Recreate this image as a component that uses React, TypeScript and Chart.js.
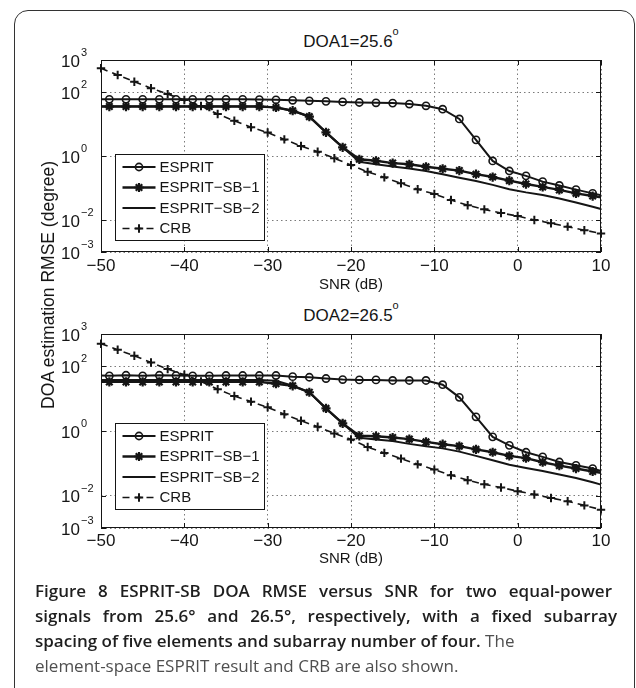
import React, { useEffect, useRef } from 'react';
import { Chart, registerables } from 'chart.js';

Chart.register(...registerables);

// ---------- data ----------
const SNR_ODD = [-50, -49, -47, -45, -43, -41, -39, -37, -35, -33, -31, -29, -27, -25, -23, -21, -19, -17, -15, -13, -11, -9, -7, -5, -3, -1, 1, 3, 5, 7, 9, 10];
const SNR_EVEN = [-50, -48, -46, -44, -42, -40, -38, -36, -34, -32, -30, -28, -26, -24, -22, -20, -18, -16, -14, -12, -10, -8, -6, -4, -2, 0, 2, 4, 6, 8, 10];
const X_TICKS = [-50, -40, -30, -20, -10, 0, 10];
const Y_TICKS = [1e-3, 1e-2, 1, 1e2, 1e3];
const Y_TICK_EXPONENTS = ['\u22123', '\u22122', '0', '2', '3'];
const SERIES_LABELS = ['ESPRIT', 'ESPRIT\u2212SB\u22121', 'ESPRIT\u2212SB\u22122', 'CRB'];
const PANEL_TITLES = ['DOA1=25.6', 'DOA2=26.5'];

// DOA1 = 25.6
const ESPRIT_1 = [59, 59, 59, 59, 59, 59, 59, 59, 59, 59, 58, 57, 55, 53, 51, 49, 47, 46, 45, 42, 37, 29, 14.4, 3.2, 0.7, 0.34, 0.24, 0.158, 0.12, 0.089, 0.068, 0.059];
const SB1_1 = [35, 35, 35, 35, 35, 35, 35, 35, 35, 35, 35, 33, 26, 17, 5.5, 1.87, 0.79, 0.71, 0.6, 0.55, 0.46, 0.4, 0.35, 0.27, 0.22, 0.17, 0.133, 0.108, 0.087, 0.068, 0.056, 0.051];
const SB2_1 = [36, 36, 36, 36, 36, 36, 36, 36, 36, 36, 36, 33, 26, 17, 5.5, 1.87, 0.66, 0.55, 0.47, 0.41, 0.34, 0.27, 0.21, 0.165, 0.125, 0.092, 0.073, 0.06, 0.047, 0.035, 0.026, 0.022];
const CRB_1 = [550, 340, 210, 131, 86, 56, 36.5, 20.5, 12.6, 7.9, 5.4, 3.3, 2.05, 1.36, 0.85, 0.52, 0.32, 0.215, 0.14, 0.091, 0.065, 0.042, 0.029, 0.0215, 0.0165, 0.0133, 0.01, 0.0079, 0.0062, 0.0048, 0.0038];

// DOA2 = 26.5
const ESPRIT_2 = [52, 51, 53, 51, 53, 52, 51, 51, 52, 52, 52, 52, 48, 46, 42, 39, 38, 38, 36.5, 36.5, 36.5, 27, 11, 2.75, 0.66, 0.36, 0.22, 0.158, 0.11, 0.087, 0.069, 0.058];
const SB1_2 = [33, 33, 33, 33, 33, 33, 33, 33, 33, 33, 33, 29, 25, 15.8, 5.0, 1.72, 0.71, 0.69, 0.63, 0.56, 0.46, 0.39, 0.34, 0.27, 0.22, 0.17, 0.145, 0.108, 0.085, 0.069, 0.056, 0.051];
const SB2_2 = [38, 38, 38, 38, 38, 38, 38, 38, 38, 38, 38, 36, 25, 15.8, 5.0, 1.72, 0.62, 0.55, 0.49, 0.4, 0.34, 0.29, 0.23, 0.17, 0.125, 0.09, 0.072, 0.058, 0.045, 0.035, 0.026, 0.022];
const CRB_2 = [500, 325, 213, 132, 82, 55, 34, 19.6, 12.1, 8.1, 5.4, 3.3, 2.08, 1.35, 0.84, 0.55, 0.32, 0.21, 0.14, 0.093, 0.064, 0.043, 0.03, 0.0225, 0.0178, 0.0138, 0.0109, 0.0085, 0.0067, 0.005, 0.0037];

// ---------- styles ----------
const INK = '#151515';
const FONT = "'Liberation Sans', Arial, Helvetica, sans-serif";
const CAPTION_FONT = "'Open Sans', 'Noto Sans', sans-serif";

const pairs = (xs: number[], ys: number[]) => xs.map((x, i) => ({ x, y: ys[i] }));
const fmtTick = (v: number) => (v < 0 ? '\u2212' + Math.abs(v) : String(v));
const isOdd = (ctx: any) => {
  const x = ctx.raw ? ctx.raw.x : 0;
  return Math.abs(x % 2) === 1;
};

function drawMarker(ctx: CanvasRenderingContext2D, style: string, x: number, y: number, r: number) {
  ctx.beginPath();
  if (style === 'circle') {
    ctx.arc(x, y, r, 0, Math.PI * 2);
  } else {
    ctx.moveTo(x - r, y);
    ctx.lineTo(x + r, y);
    ctx.moveTo(x, y - r);
    ctx.lineTo(x, y + r);
    if (style === 'star') {
      const d = r * Math.SQRT1_2;
      ctx.moveTo(x - d, y - d);
      ctx.lineTo(x + d, y + d);
      ctx.moveTo(x - d, y + d);
      ctx.lineTo(x + d, y - d);
    }
  }
  ctx.stroke();
}

type PanelCfg = {
  top: number;
  height: number;
  padTop: number;
  axisHeight: number;
  tickPad: number;
  titlePad: number;
  legendTop: number;
  esprit: number[];
  sb1: number[];
  sb2: number[];
  crb: number[];
};

const MARKER_R: Record<string, number> = { circle: 3.6, star: 4.6, cross: 4.2 };

function makeAxesPlugin(legendTop: number) {
  return {
    id: 'matlabAxes',
    afterDraw(chart: any) {
      const { ctx, chartArea: a, scales } = chart;
      const xs = scales.x;
      const ys = scales.y;
      ctx.save();
      ctx.setLineDash([]);
      ctx.strokeStyle = INK;
      ctx.lineWidth = 1;
      ctx.strokeRect(a.left + 0.5, a.top + 0.5, a.right - a.left - 1, a.bottom - a.top - 1);
      // inward tick marks on all four sides
      const tl = 5;
      ctx.beginPath();
      X_TICKS.forEach((v) => {
        const px = Math.round(xs.getPixelForValue(v)) + 0.5;
        ctx.moveTo(px, a.bottom);
        ctx.lineTo(px, a.bottom - tl);
        ctx.moveTo(px, a.top);
        ctx.lineTo(px, a.top + tl);
      });
      Y_TICKS.forEach((v) => {
        const py = Math.round(ys.getPixelForValue(v)) + 0.5;
        ctx.moveTo(a.left, py);
        ctx.lineTo(a.left + tl, py);
        ctx.moveTo(a.right, py);
        ctx.lineTo(a.right - tl, py);
      });
      ctx.stroke();

      // y tick labels: 10 with superscript exponent
      ctx.fillStyle = INK;
      Y_TICKS.forEach((v, i) => {
        const py = ys.getPixelForValue(v);
        ctx.font = `17px ${FONT}`;
        ctx.textAlign = 'right';
        ctx.textBaseline = 'alphabetic';
        ctx.fillText('10', a.left - 21, py + 6.5);
        ctx.font = `11px ${FONT}`;
        ctx.textAlign = 'left';
        ctx.fillText(Y_TICK_EXPONENTS[i], a.left - 20, py - 4);
      });

      // legend box
      const bx = Math.round(a.left + 14) + 0.5;
      const by = Math.round(a.top + legendTop) + 0.5;
      const bw = 149;
      const bh = 86;
      ctx.fillStyle = '#ffffff';
      ctx.fillRect(bx, by, bw, bh);
      ctx.strokeStyle = INK;
      ctx.lineWidth = 1;
      ctx.strokeRect(bx, by, bw, bh);
      const rows = [12.5, 33, 53.5, 74];
      chart.data.datasets.forEach((ds: any, i: number) => {
        const y = by + rows[i];
        ctx.strokeStyle = INK;
        ctx.lineWidth = ds.borderWidth;
        ctx.setLineDash(ds.borderDash || []);
        ctx.beginPath();
        ctx.moveTo(bx + 7, y);
        ctx.lineTo(bx + 40, y);
        ctx.stroke();
        ctx.setLineDash([]);
        if (ds.legendMarker) {
          ctx.lineWidth = ds.pointBorderWidth;
          drawMarker(ctx, ds.pointStyle, bx + 23.5, y, MARKER_R[ds.pointStyle]);
        }
        ctx.fillStyle = INK;
        ctx.font = `15px ${FONT}`;
        ctx.textAlign = 'left';
        ctx.textBaseline = 'middle';
        ctx.fillText(ds.label, bx + 44, y + 0.5);
      });
      ctx.restore();
    },
  };
}

function Panel({ cfg }: { cfg: PanelCfg }) {
  const ref = useRef<HTMLCanvasElement>(null);
  useEffect(() => {
    if (!ref.current) return;
    const chart = new Chart(ref.current, {
      type: 'line',
      data: {
        datasets: [
          {
            label: SERIES_LABELS[0],
            data: pairs(SNR_ODD, cfg.esprit),
            borderColor: INK,
            borderWidth: 2,
            pointStyle: 'circle',
            pointRadius: (c: any) => (isOdd(c) ? MARKER_R.circle : 0),
            pointBorderWidth: 1.6,
            pointBorderColor: INK,
            pointBackgroundColor: 'rgba(0,0,0,0)',
            legendMarker: true,
          } as any,
          {
            label: SERIES_LABELS[1],
            data: pairs(SNR_ODD, cfg.sb1),
            borderColor: INK,
            borderWidth: 2.4,
            pointStyle: 'star',
            pointRadius: (c: any) => (isOdd(c) ? MARKER_R.star : 0),
            pointBorderWidth: 2.2,
            pointBorderColor: INK,
            pointBackgroundColor: INK,
            legendMarker: true,
          } as any,
          {
            label: SERIES_LABELS[2],
            data: pairs(SNR_ODD, cfg.sb2),
            borderColor: INK,
            borderWidth: 2,
            pointRadius: 0,
            legendMarker: false,
          } as any,
          {
            label: SERIES_LABELS[3],
            data: pairs(SNR_EVEN, cfg.crb),
            borderColor: INK,
            borderWidth: 1.6,
            borderDash: [7, 5],
            pointStyle: 'cross',
            pointRadius: MARKER_R.cross,
            pointBorderWidth: 2,
            pointBorderColor: INK,
            legendMarker: true,
          } as any,
        ],
      },
      options: {
        responsive: false,
        animation: false,
        events: [],
        parsing: false as any,
        clip: false as any,
        layout: { padding: { left: 0, right: 35, top: cfg.padTop, bottom: 0 } },
        elements: { line: { tension: 0, fill: false } },
        plugins: {
          legend: { display: false },
          tooltip: { enabled: false },
          title: { display: false },
        },
        scales: {
          x: {
            type: 'linear',
            min: -50,
            max: 10,
            afterBuildTicks: (s: any) => {
              s.ticks = X_TICKS.map((v) => ({ value: v }));
            },
            afterFit: (s: any) => {
              s.height = cfg.axisHeight;
            },
            ticks: {
              padding: cfg.tickPad,
              color: INK,
              font: { size: 17, family: FONT },
              maxRotation: 0,
              autoSkip: false,
              callback: (v: any) => fmtTick(Number(v)),
            },
            grid: { color: '#7a7a7a', lineWidth: 1, drawTicks: false },
            border: { display: false, dash: [1.5, 3] },
            title: {
              display: true,
              text: 'SNR (dB)',
              color: INK,
              font: { size: 15, family: FONT },
              padding: { top: 0, bottom: cfg.titlePad },
            },
          },
          y: {
            type: 'logarithmic',
            min: 1e-3,
            max: 1e3,
            afterBuildTicks: (s: any) => {
              s.ticks = Y_TICKS.map((v) => ({ value: v }));
            },
            afterFit: (s: any) => {
              s.width = 101;
            },
            ticks: { display: false },
            grid: { color: '#7a7a7a', lineWidth: 1, drawTicks: false },
            border: { display: false, dash: [1.5, 3] },
          },
        },
      } as any,
      plugins: [makeAxesPlugin(cfg.legendTop)],
    });
    return () => chart.destroy();
  }, [cfg]);
  return (
    <canvas
      ref={ref}
      width={636}
      height={cfg.height}
      style={{ position: 'absolute', left: 0, top: cfg.top, width: 636, height: cfg.height }}
    />
  );
}

const PANEL_1: PanelCfg = {
  top: 20, height: 280, padTop: 40, axisHeight: 48, tickPad: 4, titlePad: 6, legendTop: 94,
  esprit: ESPRIT_1, sb1: SB1_1, sb2: SB2_1, crb: CRB_1,
};
const PANEL_2: PanelCfg = {
  top: 300, height: 280, padTop: 34, axisHeight: 52, tickPad: 3, titlePad: 12.5, legendTop: 89,
  esprit: ESPRIT_2, sb1: SB1_2, sb2: SB2_2, crb: CRB_2,
};

const titleStyle = (top: number): React.CSSProperties => ({
  position: 'absolute',
  left: 101,
  width: 500,
  top,
  textAlign: 'center',
  font: `17px ${FONT}`,
  lineHeight: '20px',
  color: INK,
  whiteSpace: 'nowrap',
});

const capLine = (top: number, justifyWidth?: number): React.CSSProperties => ({
  position: 'absolute',
  left: 35,
  top,
  fontFamily: CAPTION_FONT,
  fontSize: 17,
  lineHeight: '25px',
  whiteSpace: justifyWidth ? 'normal' : 'nowrap',
  color: '#4f4f4f',
  ...(justifyWidth
    ? { width: justifyWidth, textAlign: 'justify' as const, textAlignLast: 'justify' as const }
    : {}),
});

const boldStyle: React.CSSProperties = { color: '#1e1e1e', fontWeight: 600 };

export default function App() {
  return (
    <div
      style={{
        position: 'absolute',
        left: 0,
        top: 0,
        width: 636,
        height: 688,
        overflow: 'hidden',
        background: '#ffffff',
      }}
    >
      <div
        style={{
          position: 'absolute',
          left: 14,
          top: 10,
          width: 621,
          height: 700,
          boxSizing: 'border-box',
          border: '1.5px solid #333',
          borderRadius: 14,
        }}
      />
      <div style={titleStyle(32)}>
        {PANEL_TITLES[0]}
        <span style={{ fontSize: 11, position: 'relative', top: -12 }}>o</span>
      </div>
      <div style={titleStyle(306)}>
        {PANEL_TITLES[1]}
        <span style={{ fontSize: 11, position: 'relative', top: -12 }}>o</span>
      </div>
      <Panel cfg={PANEL_1} />
      <Panel cfg={PANEL_2} />
      <div
        style={{
          position: 'absolute',
          left: 48,
          top: 285,
          transform: 'translate(-50%, -50%) rotate(-90deg)',
          font: `17.5px ${FONT}`,
          color: INK,
          whiteSpace: 'nowrap',
          lineHeight: '20px',
        }}
      >
        DOA estimation RMSE (degree)
      </div>
      <div style={capLine(578, 577)}>
        <b style={boldStyle}>Figure 8 ESPRIT-SB DOA RMSE versus SNR for two equal-power</b>
      </div>
      <div style={capLine(603, 582)}>
        <b style={boldStyle}>signals from 25.6° and 26.5°, respectively, with a fixed subarray</b>
      </div>
      <div style={capLine(628)}>
        <b style={boldStyle}>spacing of five elements and subarray number of four.</b> The
      </div>
      <div style={capLine(653)}>element-space ESPRIT result and CRB are also shown.</div>
    </div>
  );
}
